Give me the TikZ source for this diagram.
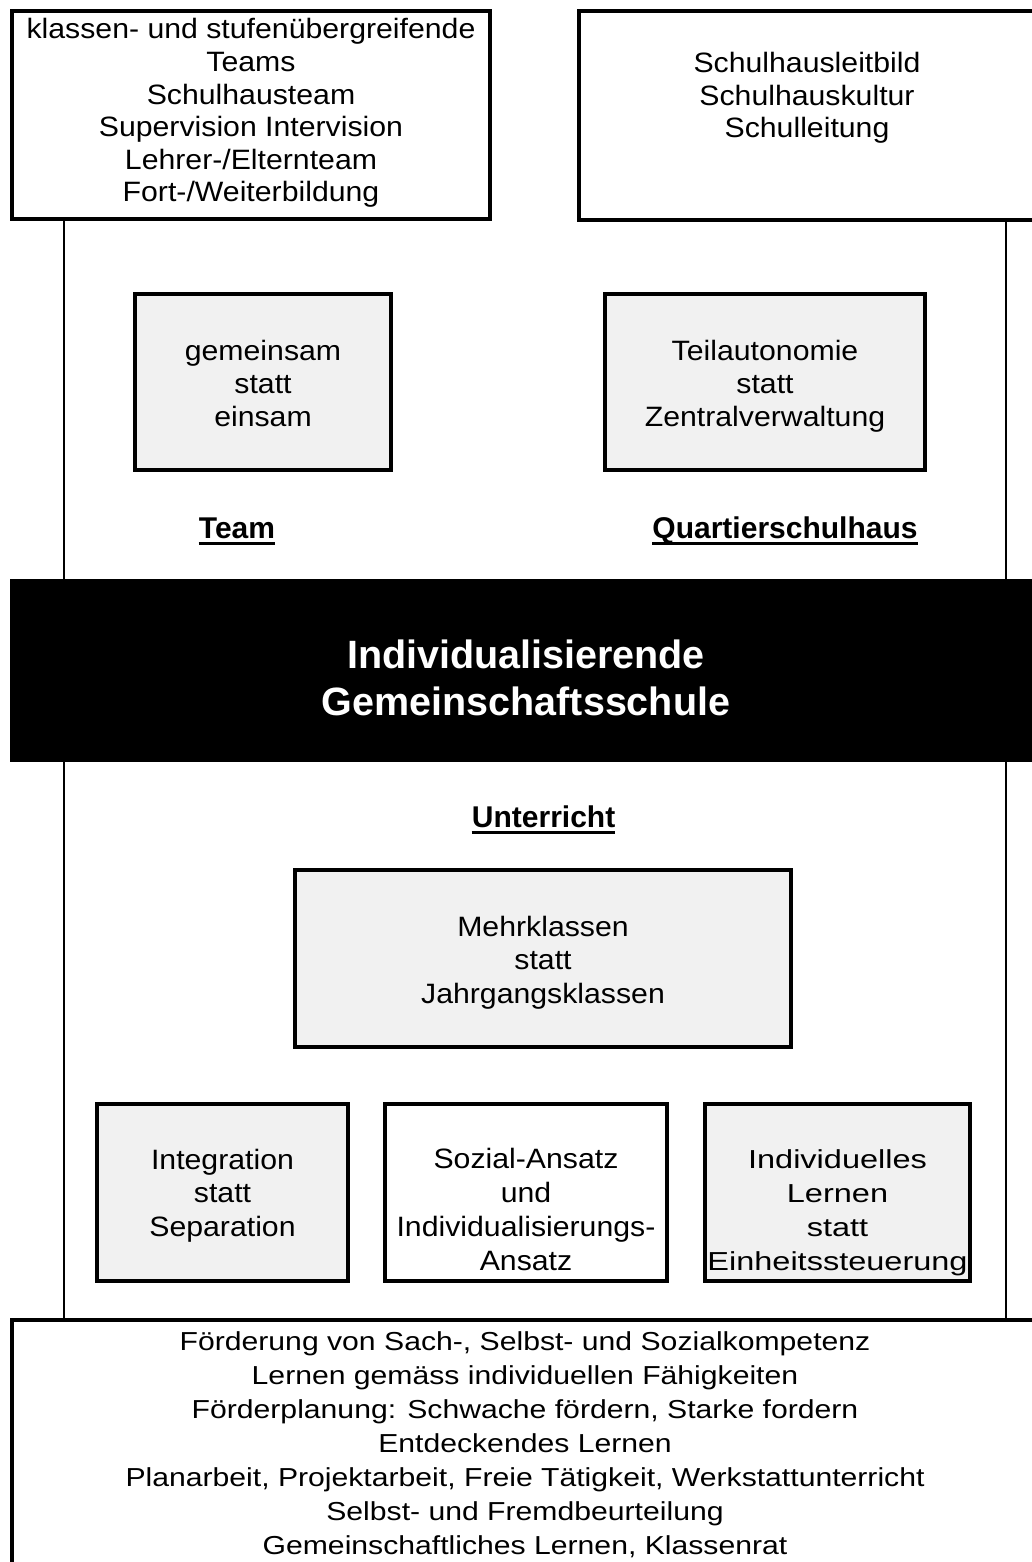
\documentclass[tikz,border=0pt]{standalone}
\usepackage{fontspec}
\setmainfont{Liberation Sans}
\newfontfamily\boxfont[FakeStretch=1.08]{Liberation Sans}
\newfontfamily\widefont[FakeStretch=1.25]{Liberation Sans}
\newfontfamily\listfont[FakeStretch=1.16]{Liberation Sans}
\definecolor{boxgray}{RGB}{241,241,241}
\begin{document}
\begin{tikzpicture}[x=1pt,y=-1pt,
  frame/.style={draw=black,line width=4pt,inner sep=0pt,outer sep=0pt},
  graybox/.style={frame,fill=boxgray},
  whitebox/.style={frame,fill=white},
  txt/.style={align=center,inner sep=0pt,anchor=base,font=\boxfont\fontsize{28}{32.6}\selectfont},
  widetxt/.style={align=center,inner sep=0pt,anchor=base,font=\widefont\fontsize{26}{34}\selectfont},
  listtxt/.style={align=center,inner sep=0pt,anchor=base,font=\listfont\fontsize{26}{34}\selectfont},
  lbl/.style={inner sep=0pt,anchor=base,font=\bfseries\fontsize{30}{36}\selectfont},
  uline/.style={line width=3pt},
  vline/.style={line width=2pt}]
\useasboundingbox (0,0) rectangle (1032,1562);
\clip (0,0) rectangle (1032,1562);
\fill[white] (0,0) rectangle (1032,1562);

% side lines (multi-line nodes below are placed by the baseline of their last line)
\coordinate (lt) at (64,219);
\coordinate (lb) at (64,1320);
\coordinate (rt) at (1005.5,220);
\coordinate (rb) at (1005.5,1320);
\draw[vline] (lt) -- (lb);
\draw[vline] (rt) -- (rb);

% top boxes
\node[whitebox,minimum width=478pt,minimum height=208pt] (tl) at (251,115) {};
\node[txt] (tltext) at (251,202) {klassen- und stufenübergreifende\\Teams\\Schulhausteam\\Supervision Intervision\\Lehrer-/Elternteam\\Fort-/Weiterbildung};
\node[whitebox,minimum width=458pt,minimum height=209pt] (tr) at (808,115.5) {};
\node[txt] (trtext) at (807,138) {Schulhausleitbild\\Schulhauskultur\\Schulleitung};

% gray boxes
\node[graybox,minimum width=256pt,minimum height=176pt] (g1) at (263,382) {};
\node[txt] (g1text) at (263,426) {gemeinsam\\statt\\einsam};
\node[graybox,minimum width=320pt,minimum height=176pt] (g2) at (765,382) {};
\node[txt] (g2text) at (765,426) {Teilautonomie\\statt\\Zentralverwaltung};

% labels
\node[lbl] (team) at (237,538) {Team};
\draw[uline] ([yshift=-5.5pt]team.base west) -- ([yshift=-5.5pt]team.base east);
\node[lbl] (quart) at (785,538) {Quartierschulhaus};
\draw[uline] ([yshift=-5.5pt]quart.base west) -- ([yshift=-5.5pt]quart.base east);

% black band
\node[fill=black,inner sep=0pt,minimum width=1040pt,minimum height=183pt] (band) at (530,670.5) {};
\node[inner sep=0pt,anchor=base,align=center,text=white,font=\bfseries\fontsize{39.5}{47}\selectfont] (title) at (526,715) {Individualisierende\\Gemeinschaftsschule};

% Unterricht
\node[lbl] (unt) at (543.6,827) {Unterricht};
\draw[uline] ([yshift=-5pt]unt.base west) -- ([yshift=-5pt]unt.base east);

\node[graybox,minimum width=496pt,minimum height=177pt] (mk) at (543,958.5) {};
\node[txt,font=\boxfont\fontsize{28}{33.5}\selectfont] (mktext) at (543,1003) {Mehrklassen\\statt\\Jahrgangsklassen};

% bottom three boxes
\node[graybox,minimum width=251pt,minimum height=177pt] (b1) at (222.5,1192.5) {};
\node[txt,font=\boxfont\fontsize{28}{33.5}\selectfont] (b1text) at (222.5,1236) {Integration\\statt\\Separation};
\node[whitebox,minimum width=282pt,minimum height=177pt] (b2) at (526,1192.5) {};
\node[txt,font=\boxfont\fontsize{28}{34}\selectfont] (b2text) at (526,1270) {Sozial-Ansatz\\und\\Individualisierungs-\\Ansatz};
\node[graybox,minimum width=265pt,minimum height=177pt] (b3) at (837.5,1192.5) {};
\node[widetxt] (b3text) at (837.5,1270) {Individuelles\\Lernen\\statt\\Einheitssteuerung};

% bottom box
\node[whitebox,minimum width=1040pt,minimum height=300pt,anchor=north west] (bot) at (12,1320) {};
\node[listtxt] (bottext) at (525,1554) {Förderung von Sach-, Selbst- und Sozialkompetenz\\Lernen gemäss individuellen Fähigkeiten\\Förderplanung: Schwache fördern, Starke fordern\\Entdeckendes Lernen\\Planarbeit, Projektarbeit, Freie Tätigkeit, Werkstattunterricht\\Selbst- und Fremdbeurteilung\\Gemeinschaftliches Lernen, Klassenrat};
\end{tikzpicture}
\end{document}
